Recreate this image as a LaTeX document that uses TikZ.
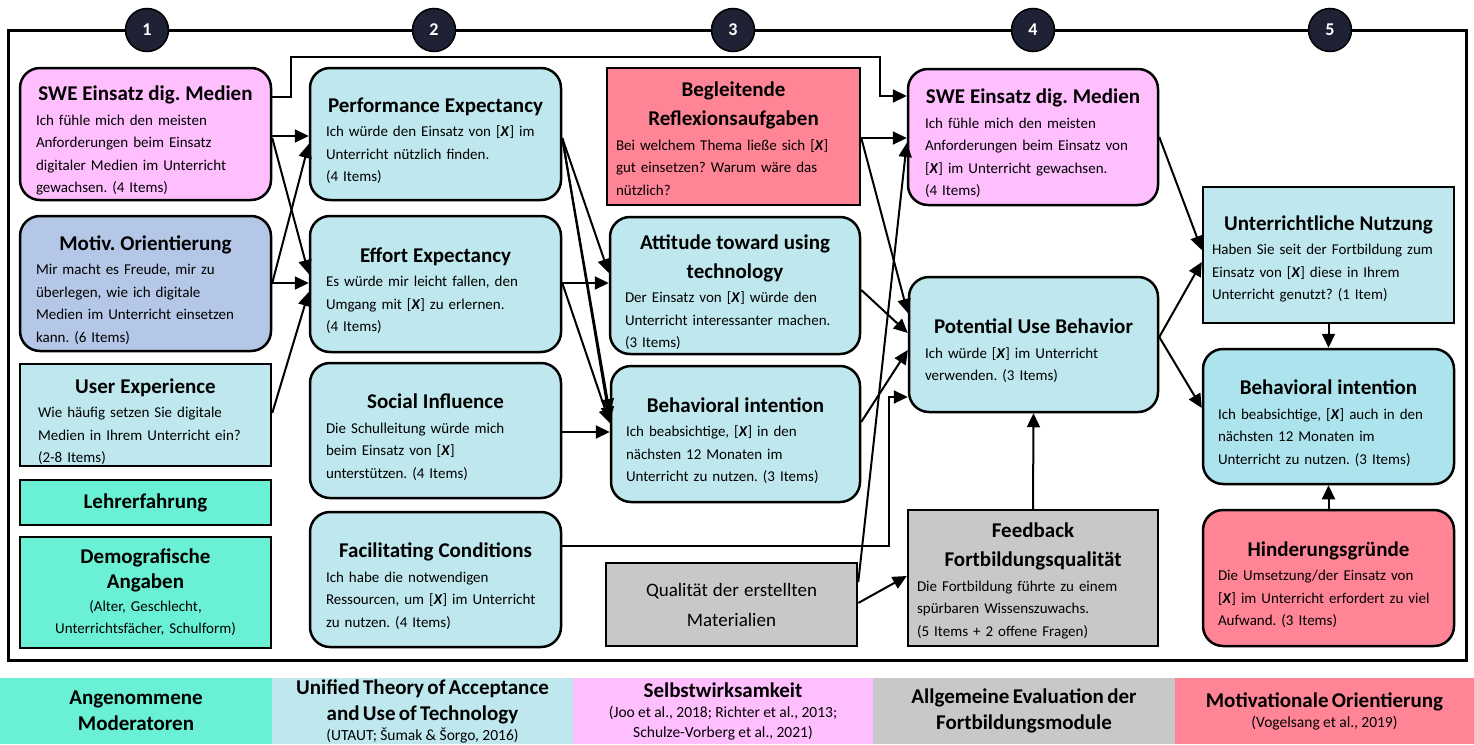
\documentclass[tikz,border=0pt]{standalone}
\usepackage{fontspec}
\setmainfont{Carlito}
\frenchspacing
\usetikzlibrary{arrows.meta}
\definecolor{cpink}{HTML}{FFBFFF}
\definecolor{cblue}{HTML}{B4C7E7}
\definecolor{ccyan}{HTML}{BFE8EE}
\definecolor{ccyanb}{HTML}{ADE3EC}
\definecolor{cteal}{HTML}{69F0D5}
\definecolor{cred}{HTML}{FF8596}
\definecolor{cgray}{HTML}{C8C8C8}
\definecolor{cnavy}{HTML}{1E2234}
\newcommand\tit[1]{{\centering\leftskip=-25pt plus 1fil\relax\rightskip=-25pt plus 1fil\relax\fontsize{21}{29}\selectfont\bfseries #1\par}\vspace{2pt}}
\newcommand\titonly[1]{{\centering\fontsize{21}{26}\selectfont\bfseries #1\par}}
\newcommand\xx{[\textbf{\textit{X}}]}
\newcommand\bxg[9]{%
  \pgfmathsetmacro\bw{#4-#2}\pgfmathsetmacro\bh{#5-#3}\pgfmathsetmacro\tw{#4-#2-2*#7}%
  \node[#6, minimum width=\bw pt, minimum height=\bh pt, text width=\tw pt] (#1) at ({(#2+#4)/2},{(#3+#5)/2}) {#8\par\vskip-#9\hrule height 0pt width 0pt};}
\newcommand\bx[8]{\bxg{#1}{#2}{#3}{#4}{#5}{#6}{#7}{#8}{13pt}}
\newcommand\bxn[8]{\bxg{#1}{#2}{#3}{#4}{#5}{#6}{#7}{#8}{0pt}}
\newcommand\lgd[5]{%
  \pgfmathsetmacro\bw{#3-#2}\pgfmathsetmacro\tw{#3-#2-6}%
  \node[legbox, fill=#4, minimum width=\bw pt, text width=\tw pt] (#1) at ({(#2+#3)/2},711) {#5};}
\newcommand\lgt[1]{{\fontsize{21}{26}\selectfont\bfseries #1\par}}
\newcommand\lgs[1]{{\fontsize{15.5}{20}\selectfont #1\par}}
\tikzset{
  box/.style={draw, line width=2.5pt, inner sep=0pt, align=left, font=\fontsize{15}{22.5}\selectfont},
  rbox/.style={box, rounded corners=20pt},
  legbox/.style={inner sep=0pt, minimum height=66pt, align=center},
  arr/.style={line width=2pt, -{Triangle[length=14pt,width=13pt]}},
  num/.style={circle, fill=cnavy, draw=black, line width=1.5pt, minimum size=43pt, inner sep=0pt, text=white, font=\fontsize{18}{18}\selectfont\bfseries},
}
\begin{document}
\begin{tikzpicture}[x=1pt,y=-1pt]
\useasboundingbox (0,0) rectangle (1474,744);
% frame
\draw[line width=3pt] (8,30) rectangle (1466,660);
\node[num] (n1) at (147,30) {1};
\node[num] (n2) at (434,30) {2};
\node[num] (n3) at (733,30) {3};
\node[num] (n4) at (1033,30) {4};
\node[num] (n5) at (1330,30) {5};
% column 1
\bx{swe1}{20}{68}{271}{200}{rbox, fill=cpink}{16}{\tit{SWE Einsatz dig. Medien}Ich fühle mich den meisten\\Anforderungen beim Einsatz\\digitaler Medien im Unterricht\\gewachsen. (4 Items)}
\bx{motiv}{20}{216}{271}{351}{rbox, fill=cblue}{16}{\tit{Motiv. Orientierung}Mir macht es Freude, mir zu\\überlegen, wie ich digitale\\Medien im Unterricht einsetzen\\kann. (6 Items)}
\bx{ux}{20}{364}{271}{466}{box, fill=ccyan}{18}{\tit{User Experience}Wie häufig setzen Sie digitale\\Medien in Ihrem Unterricht ein?\\(2-8 Items)}
\bxn{lehrer}{20}{480}{271}{525}{box, fill=cteal}{10}{\titonly{Lehrerfahrung}}
\bxn{demo}{20}{537}{271}{648}{box, fill=cteal}{8}{{\centering\fontsize{21}{25}\selectfont\bfseries Demografische\\Angaben\par}{\centering (Alter, Geschlecht,\\Unterrichtsfächer, Schulform)\par}}
% column 2
\bx{pe}{310}{68}{561}{200}{rbox, fill=ccyan}{16}{\tit{Performance Expectancy}Ich würde den Einsatz von \xx{} im\\Unterricht nützlich finden.\\(4 Items)}
\bx{ee}{310}{216}{561}{352}{rbox, fill=ccyan}{16}{\tit{Effort Expectancy}Es würde mir leicht fallen, den\\Umgang mit \xx{} zu erlernen.\\(4 Items)}
\bx{si}{310}{363}{561}{498}{rbox, fill=ccyan}{16}{\tit{Social Influence}Die Schulleitung würde mich\\beim Einsatz von \xx\\unterstützen. (4 Items)}
\bx{fc}{310}{512}{561}{647}{rbox, fill=ccyan}{16}{\tit{Facilitating Conditions}Ich habe die notwendigen\\Ressourcen, um \xx{} im Unterricht\\zu nutzen. (4 Items)}
% column 3
\bxg{refl}{607}{68}{860}{205}{box, fill=cred}{9}{\tit{Begleitende\\Reflexionsaufgaben}Bei welchem Thema ließe sich \xx\\gut einsetzen? Warum wäre das\\nützlich?}{4pt}
\bx{att}{610}{217}{860}{354}{rbox, fill=ccyan}{15}{\tit{Attitude toward using\\technology}Der Einsatz von \xx{} würde den\\Unterricht interessanter machen.\\(3 Items)}
\bx{bi3}{611}{366}{860}{502}{rbox, fill=ccyan}{15}{\tit{Behavioral intention}Ich beabsichtige, \xx{} in den\\nächsten 12 Monaten im\\Unterricht zu nutzen. (3 Items)}
\bxn{qual}{606}{563}{857}{646}{box, fill=cgray}{8}{{\centering\fontsize{19}{30}\selectfont Qualität der erstellten\\Materialien\par}}
% column 4
\bx{swe4}{908}{69}{1158}{205}{rbox, fill=cpink}{17}{\tit{SWE Einsatz dig. Medien}Ich fühle mich den meisten\\Anforderungen beim Einsatz von\\\xx{} im Unterricht gewachsen.\\(4 Items)}
\bx{pu}{909}{277}{1158}{412}{rbox, fill=ccyan}{16}{\tit{Potential Use Behavior}Ich würde \xx{} im Unterricht\\verwenden. (3 Items)}
\bxg{fb}{908}{510}{1158}{646}{box, fill=cgray}{9}{\tit{Feedback\\Fortbildungsqualität}Die Fortbildung führte zu einem\\spürbaren Wissenszuwachs.\\(5 Items + 2 offene Fragen)}{6pt}
% column 5
\bxg{un}{1203}{187}{1454}{323}{box, fill=ccyan}{9}{\tit{Unterrichtliche Nutzung}Haben Sie seit der Fortbildung zum\\Einsatz von \xx{} diese in Ihrem\\Unterricht genutzt? (1 Item)}{8pt}
\bx{bi5}{1203}{349}{1454}{484}{rbox, fill=ccyanb}{15}{\tit{Behavioral intention}Ich beabsichtige, \xx{} auch in den\\nächsten 12 Monaten im\\Unterricht zu nutzen. (3 Items)}
\bx{hin}{1203}{510}{1454}{646}{rbox, fill=cred}{15}{\tit{Hinderungsgründe}Die Umsetzung/der Einsatz von\\\xx{} im Unterricht erfordert zu viel\\Aufwand. (3 Items)}
% connectors column 1 -> 2
\draw[arr] (swe1.east |- 0,136) -- (pe.west |- 0,136);
\draw[arr] (swe1.east |- 0,138) -- (ee.west |- 0,274);
\draw[arr] (motiv.east |- 0,283) -- (pe.west |- 0,144);
\draw[arr] (motiv.east |- 0,283) -- (ee.west |- 0,283);
\draw[arr] (ux.east |- 0,413) -- (ee.west |- 0,292);
\draw[arr] (swe1.east |- 0,97) -- (291,97) -- (291,57) -- (880,57) -- (880,96) -- (swe4.west |- 0,96);
% column 2 -> 3
\draw[arr] (pe.east |- 0,138) -- (att.west |- 0,273);
\draw[arr] (pe.east |- 0,138) -- (bi3.west |- 0,413);
\draw[arr] (pe.east |- 0,138) -- (bi3.west |- 0,421);
\draw[arr] (ee.east |- 0,283) -- (att.west |- 0,283);
\draw[arr] (ee.east |- 0,283) -- (bi3.west |- 0,423);
\draw[arr] (si.east |- 0,432) -- (bi3.west |- 0,432);
\draw[arr] (fc.east |- 0,546) -- (889,546) -- (889,397) -- (pu.west |- 0,397);
% column 3 -> 4
\draw[arr] (refl.east |- 0,138) -- (swe4.west |- 0,138);
\draw[arr] (refl.east |- 0,138) -- (pu.west |- 0,313);
\draw[arr] (att.east |- 0,290) -- (pu.west |- 0,333);
\draw[arr] (bi3.east |- 0,422) -- (pu.west |- 0,350);
\draw[arr] (qual.east |- 0,582) -- (swe4.west |- 0,143);
\draw[arr] (qual.east |- 0,603) -- (fb.west |- 0,576);
\draw[arr] (fb.north) -- (pu.south);
% column 4 -> 5
\draw[arr] (swe4.east |- 0,137) -- (un.west |- 0,250);
\draw[arr] (pu.east |- 0,337) -- (un.west |- 0,262);
\draw[arr] (pu.east |- 0,337) -- (bi5.west |- 0,408);
\draw[arr] (un.south) -- (bi5.north);
\draw[arr] (hin.north) -- (bi5.south);
% legend
\lgd{l1}{0}{272}{cteal}{\lgt{Angenommene\\Moderatoren}}
\lgd{l2}{272}{573}{ccyan}{\lgt{Unified Theory of Acceptance\\and Use of Technology}\lgs{(UTAUT; Šumak \& Šorgo, 2016)}}
\lgd{l3}{573}{873}{cpink}{\lgt{Selbstwirksamkeit}\lgs{(Joo et al., 2018; Richter et al., 2013;\\Schulze-Vorberg et al., 2021)}}
\lgd{l4}{873}{1175}{cgray}{\lgt{Allgemeine Evaluation der\\Fortbildungsmodule}}
\lgd{l5}{1175}{1474}{cred}{\lgt{Motivationale Orientierung}\lgs{(Vogelsang et al., 2019)}}
\end{tikzpicture}
\end{document}
